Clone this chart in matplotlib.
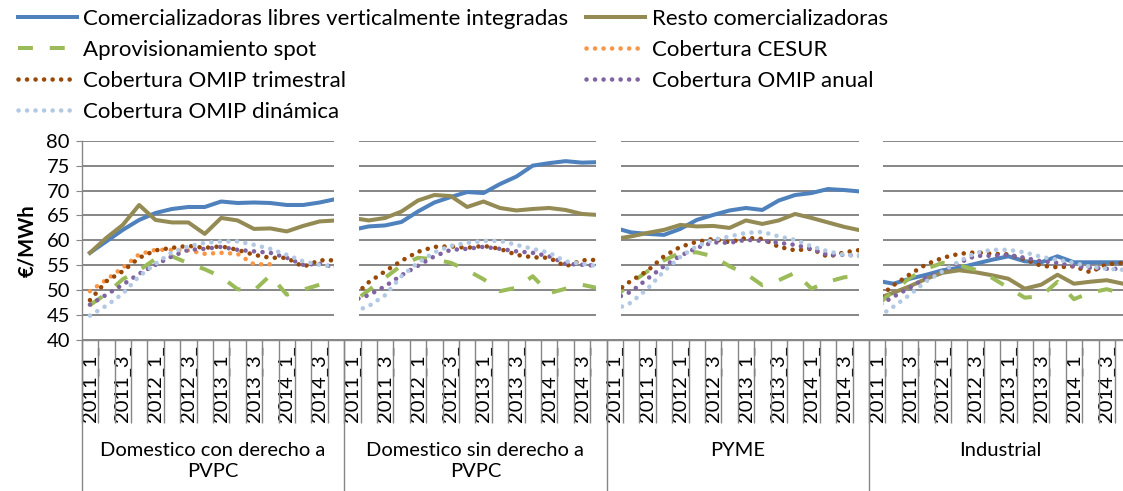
import numpy as np
import matplotlib.pyplot as plt
import matplotlib.transforms as mtransforms
from matplotlib.patches import Rectangle

plt.rcParams['font.family'] = ['Lato', 'DejaVu Sans']

groups = ['Domestico con derecho a\nPVPC', 'Domestico sin derecho a\nPVPC', 'PYME', 'Industrial']
quarters = ['2011_1', '2011_2', '2011_3', '2011_4', '2012_1', '2012_2', '2012_3', '2012_4',
            '2013_1', '2013_2', '2013_3', '2013_4', '2014_1', '2014_2', '2014_3', '2014_4']
nan = np.nan

# 16 quarters per segment, 4 segments in a row
libres_vi = [57.5, 59.8, 62.1, 64.1, 65.5, 66.3, 66.7, 66.7, 67.8, 67.5, 67.6, 67.5, 67.1, 67.1, 67.6, 68.3,
             62.1, 62.8, 63.0, 63.7, 65.8, 67.6, 68.7, 69.7, 69.5, 71.3, 72.8, 75.0, 75.5, 75.9, 75.6, 75.7,
             62.5, 61.6, 61.3, 61.1, 62.3, 64.1, 65.1, 66.0, 66.5, 66.1, 68.0, 69.1, 69.5, 70.3, 70.1, 69.8,
             51.9, 51.3, 52.3, 53.1, 54.0, 54.5, 55.3, 56.1, 56.8, 55.8, 55.6, 56.8, 55.6, 55.6, 55.6, 55.6]
resto = [57.5, 60.5, 63.1, 67.1, 64.1, 63.6, 63.6, 61.3, 64.5, 64.0, 62.3, 62.4, 61.8, 62.9, 63.8, 64.0,
         64.5, 64.0, 64.5, 65.8, 68.0, 69.1, 68.9, 66.7, 67.8, 66.5, 66.0, 66.3, 66.5, 66.1, 65.3, 65.1,
         60.3, 60.8, 61.5, 62.1, 63.1, 62.8, 62.9, 62.5, 64.0, 63.3, 64.0, 65.3, 64.5, 63.6, 62.7, 62.0,
         48.3, 49.5, 50.8, 52.3, 53.5, 54.0, 53.6, 53.0, 52.3, 50.3, 51.1, 53.1, 51.3, 51.7, 52.0, 51.3]
spot = [47.0, 49.3, 52.2, 54.0, 56.3, 56.8, 55.4, 54.2, 52.7, 50.2, 49.9, 53.0, 49.1, 50.1, 51.1, 50.0,
        47.5, 50.0, 52.5, 55.0, 56.5, 56.2, 55.5, 54.0, 52.2, 49.8, 50.5, 52.8, 49.4, 50.3, 51.1, 50.4,
        48.5, 51.5, 53.8, 56.0, 57.5, 57.6, 56.8, 54.8, 53.3, 51.0, 52.0, 53.5, 50.3, 51.7, 52.6, 52.8,
        47.0, 49.8, 52.5, 54.3, 55.5, 55.0, 54.1, 52.5, 50.5, 48.5, 48.8, 51.7, 48.2, 49.5, 50.2, 49.3]
cesur = [49.8, 52.1, 54.5, 57.2, 58.1, 58.1, 58.0, 57.3, 57.5, 57.3, 55.2, 55.2, nan, nan, nan, nan,
         nan, nan, nan, nan, nan, nan, nan, nan, nan, nan, nan, nan, nan, nan, nan, nan,
         nan, nan, nan, nan, nan, nan, nan, nan, nan, nan, nan, nan, nan, nan, nan, nan,
         nan, nan, nan, nan, nan, nan, nan, nan, nan, nan, nan, nan, nan, nan, nan, nan]
omip_trim = [48.0, 51.8, 53.8, 56.5, 58.0, 58.5, 58.9, 58.5, 58.8, 58.1, 57.1, 56.5, 56.5, 54.7, 56.0, 56.0,
             48.5, 51.6, 53.8, 55.9, 57.7, 58.7, 58.8, 58.5, 58.9, 58.3, 57.1, 56.6, 56.5, 54.8, 56.0, 56.1,
             49.5, 51.9, 53.9, 56.8, 58.7, 59.7, 60.3, 59.6, 60.5, 60.3, 58.7, 58.0, 58.3, 56.7, 57.6, 58.1,
             48.3, 51.0, 53.2, 55.2, 56.5, 57.3, 57.6, 57.3, 57.2, 56.2, 54.9, 54.6, 54.8, 53.6, 55.2, 55.5]
omip_anual = [47.1, 49.1, 51.1, 53.3, 55.1, 56.8, 58.1, 58.3, 58.7, 58.1, 57.8, 57.5, 56.5, 55.1, 55.3, 54.5,
              47.9, 49.0, 50.8, 53.0, 54.9, 56.8, 58.1, 58.3, 58.7, 58.3, 57.8, 57.5, 56.8, 55.3, 55.1, 54.9,
              48.3, 49.7, 52.3, 54.8, 56.9, 58.5, 59.6, 59.5, 60.1, 59.9, 59.5, 59.1, 58.3, 57.1, 57.1, 56.9,
              46.7, 48.7, 50.5, 52.5, 53.8, 55.5, 56.9, 56.9, 57.1, 56.5, 55.8, 55.5, 54.8, 54.5, 54.3, 54.3]
omip_din = [44.9, 46.9, 49.3, 52.8, 55.3, 57.6, 58.8, 59.5, 59.8, 59.8, 59.1, 58.3, 57.1, 55.8, 55.1, 54.7,
            45.6, 46.8, 49.0, 52.8, 55.5, 57.6, 58.9, 59.5, 59.9, 59.9, 59.1, 58.3, 57.5, 55.8, 55.3, 54.8,
            46.1, 47.5, 50.3, 53.8, 56.7, 58.8, 60.1, 60.8, 61.5, 61.7, 60.8, 60.1, 58.8, 57.8, 57.1, 56.9,
            44.5, 46.7, 49.1, 51.8, 53.8, 55.8, 57.5, 58.1, 58.1, 57.6, 56.7, 56.1, 55.5, 54.7, 54.3, 54.1]

grey = '#868686'
n_q = len(quarters)
x = np.arange(len(groups) * n_q)

fig = plt.figure(figsize=(11.23, 4.91), dpi=100)
# axis runs past the right edge of the picture, as in the original
ax = fig.add_axes([0.0728, 0.3075, 0.9346, 0.4059])

dot = dict(linestyle=(0, (0.01, 1.85)), dash_capstyle='round', lw=3.3)
ax.plot(x, libres_vi, color='#4F81BD', lw=2.9, label='Comercializadoras libres verticalmente integradas', zorder=3)
ax.plot(x, resto, color='#948A54', lw=2.9, label='Resto comercializadoras', zorder=3)
ax.plot(x, spot, color='#9BBB59', lw=2.9, linestyle=(0, (3.7, 4.2)), label='Aprovisionamiento spot', zorder=3)
ax.plot(x, cesur, color='#F79646', label='Cobertura CESUR', zorder=3, **dot)
ax.plot(x, omip_trim, color='#984807', label='Cobertura OMIP trimestral', zorder=3, **dot)
ax.plot(x, omip_anual, color='#8064A2', label='Cobertura OMIP anual', zorder=3, **dot)
ax.plot(x, omip_din, color='#B3C9E3', label='Cobertura OMIP dinámica', zorder=3, **dot)

# white patches that hide the joins between segments
for g in range(1, len(groups)):
    b = g * n_q - 0.5
    ax.add_patch(Rectangle((b - 0.62, 44.3), 1.5, 36.4, facecolor='white',
                           edgecolor='none', zorder=5, clip_on=False))

ax.set_xlim(-0.5, len(x) - 0.5)
ax.set_ylim(40, 80)
ax.set_yticks(np.arange(40, 81, 5))
ax.yaxis.grid(True, color=grey, lw=1.4)
ax.set_axisbelow(True)
for s in ['top', 'right']:
    ax.spines[s].set_visible(False)
for s in ['left', 'bottom']:
    ax.spines[s].set_color(grey)
    ax.spines[s].set_linewidth(1.0)
ax.tick_params(axis='y', length=4.5, color=grey, pad=4, labelsize=14.5)
ax.set_ylabel('€/MWh', fontsize=14.5, fontweight='bold')
ax.yaxis.set_label_coords(-0.042, 0.5)

# category ticks (long lines between labels) and quarter labels
ax.set_xticks(np.arange(len(x) + 1) - 0.5, minor=True)
ax.tick_params(axis='x', which='minor', length=60, color=grey, width=1.0)
ax.set_xticks(x)
ax.set_xticklabels([q + '_' if i % 2 == 0 else '' for g in groups for i, q in enumerate(quarters)],
                   rotation=90, fontsize=14.5)
ax.tick_params(axis='x', which='major', length=0, pad=4)

trans = mtransforms.blended_transform_factory(ax.transData, ax.transAxes)
for g, name in enumerate(groups):
    b = g * n_q - 0.5
    ax.plot([b, b], [0, -0.76], color=grey, lw=1.0, transform=trans, clip_on=False)
    ax.text(b + n_q / 2, -0.51, name, transform=trans, ha='center', va='top',
            fontsize=14.5, linespacing=1.3)

# legend filled row by row, two columns
handles, labels = ax.get_legend_handles_labels()
order = [0, 2, 4, 6, 1, 3, 5]
fig.legend([handles[i] for i in order], [labels[i] for i in order],
           loc='upper left', bbox_to_anchor=(0.008, 1.0), ncol=2, frameon=False,
           fontsize=16, handlelength=2.65, handletextpad=0.3, columnspacing=0.8,
           labelspacing=0.5, borderaxespad=0)

fig.savefig('out.png', dpi=100)
